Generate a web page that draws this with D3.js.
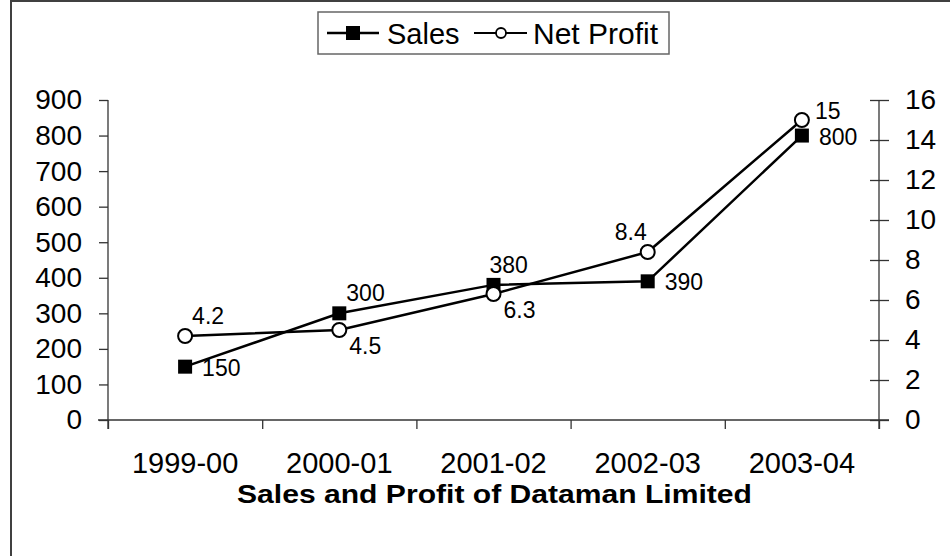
<!DOCTYPE html>
<html><head><meta charset="utf-8">
<script src="https://cdn.jsdelivr.net/npm/d3@7"></script>
<style>body{margin:0;background:#fff}svg{display:block}text{font-family:"Liberation Sans",Arial,sans-serif;fill:#000}</style>
</head><body>
<svg id="c" width="950" height="556"></svg>
<script>
const categories = ["1999-00","2000-01","2001-02","2002-03","2003-04"];
const sales = [150,300,380,390,800];
const netProfit = [4.2,4.5,6.3,8.4,15];
const leftTicks = [0,100,200,300,400,500,600,700,800,900];
const rightTicks = [0,2,4,6,8,10,12,14,16];
const salesLabelPos = ["right","aboveRight","above","right","right"];
const profitLabelPos = ["aboveRight","belowRight","belowRight","aboveLeft","topRight"];
const title = "Sales and Profit of Dataman Limited";

const svg = d3.select("#c");
const L=108, R=879, T=100, B=420;
const x = d3.scaleBand().domain(categories).range([L,R]);
const yL = d3.scaleLinear().domain([0,900]).range([B,T]);
const yR = d3.scaleLinear().domain([0,16]).range([B,T]);

// outer border
svg.append("rect").attr("x",11).attr("y",1).attr("width",960).attr("height",580)
  .attr("fill","none").attr("stroke","#404040").attr("stroke-width",2);

// left axis
const gL = svg.append("g").attr("transform",`translate(${L},0)`)
  .call(d3.axisLeft(yL).tickValues(leftTicks).tickSize(9).tickPadding(17).tickSizeOuter(0));
gL.selectAll("text").style("font-size","28px");
// right axis
const gR = svg.append("g").attr("transform",`translate(${R},0)`)
  .call(d3.axisRight(yR).tickValues(rightTicks).tickSize(10).tickPadding(16).tickSizeOuter(0));
gR.selectAll(".tick line").attr("x1",-9);
gR.selectAll("text").style("font-size","28px");
// bottom axis
const xt = d3.scaleLinear().domain([0,categories.length]).range([L,R]);
const gB = svg.append("g").attr("transform",`translate(0,${B})`)
  .call(d3.axisBottom(xt).tickValues(d3.range(categories.length+1)).tickSize(9).tickFormat("").tickSizeOuter(0));
[gL,gR,gB].forEach(g=>{g.select(".domain").attr("stroke","#333").attr("stroke-width",1.3);
  g.selectAll(".tick line").attr("stroke","#333").attr("stroke-width",1.3);});
gB.select(".domain").attr("d",`M${L-10},0H${R+10}`);
gL.select(".domain").attr("d",`M0,${T}V${B+9}`);
gR.select(".domain").attr("d",`M0,${T}V${B+9}`);

svg.append("g").selectAll("text").data(categories).join("text")
  .attr("x",d=>x(d)+x.bandwidth()/2).attr("y",473).attr("text-anchor","middle")
  .style("font-size","29px").text(d=>d);

svg.append("text").attr("x",237).attr("y",503)
  .attr("textLength",515).attr("lengthAdjust","spacingAndGlyphs")
  .style("font-size","26px").style("font-weight","bold").text(title);

const cx = d=>x(d)+x.bandwidth()/2;
const line = (ys,vals)=>d3.line().x((d,i)=>cx(categories[i])).y(d=>ys(d))(vals);
svg.append("path").attr("d",line(yL,sales)).attr("fill","none").attr("stroke","#000").attr("stroke-width",2.5);
svg.append("path").attr("d",line(yR,netProfit)).attr("fill","none").attr("stroke","#000").attr("stroke-width",2.5);

svg.append("g").selectAll("rect").data(sales).join("rect")
  .attr("x",(d,i)=>cx(categories[i])-7).attr("y",d=>yL(d)-7).attr("width",14).attr("height",14).attr("fill","#000");
svg.append("g").selectAll("circle").data(netProfit).join("circle")
  .attr("cx",(d,i)=>cx(categories[i])).attr("cy",d=>yR(d)).attr("r",7)
  .attr("fill","#fff").attr("stroke","#000").attr("stroke-width",2);

const off = {
  right:[17,9,"start"], above:[-4,-12,"start"], aboveRight:[7,-12,"start"],
  topRight:[13,-1,"start"], belowRight:[10,24,"start"], aboveLeft:[-1,-12,"end"]
};
const fontData = "23px";
svg.append("g").selectAll("text").data(sales).join("text")
  .each(function(d,i){const o=off[salesLabelPos[i]];
    d3.select(this).attr("x",cx(categories[i])+o[0]).attr("y",yL(d)+o[1]).attr("text-anchor",o[2]);})
  .style("font-size",fontData).text(d=>d);
svg.append("g").selectAll("text").data(netProfit).join("text")
  .each(function(d,i){const o=off[profitLabelPos[i]];
    d3.select(this).attr("x",cx(categories[i])+o[0]).attr("y",yR(d)+o[1]).attr("text-anchor",o[2]);})
  .style("font-size",fontData).text(d=>d);

// legend
const lg = svg.append("g");
lg.append("rect").attr("x",318).attr("y",12).attr("width",351).attr("height",42)
  .attr("fill","#fff").attr("stroke","#666").attr("stroke-width",1.5);
lg.append("line").attr("x1",327).attr("x2",379).attr("y1",33).attr("y2",33).attr("stroke","#000").attr("stroke-width",2.5);
lg.append("rect").attr("x",346).attr("y",26).attr("width",14).attr("height",14).attr("fill","#000");
lg.append("text").attr("x",387).attr("y",44).style("font-size","29px").text("Sales");
lg.append("line").attr("x1",474).attr("x2",527).attr("y1",33).attr("y2",33).attr("stroke","#000").attr("stroke-width",2);
lg.append("circle").attr("cx",501).attr("cy",33).attr("r",5).attr("fill","#fff").attr("stroke","#000").attr("stroke-width",1.8);
lg.append("text").attr("x",533).attr("y",44).style("font-size","30px").text("Net Profit");
</script>
</body></html>
